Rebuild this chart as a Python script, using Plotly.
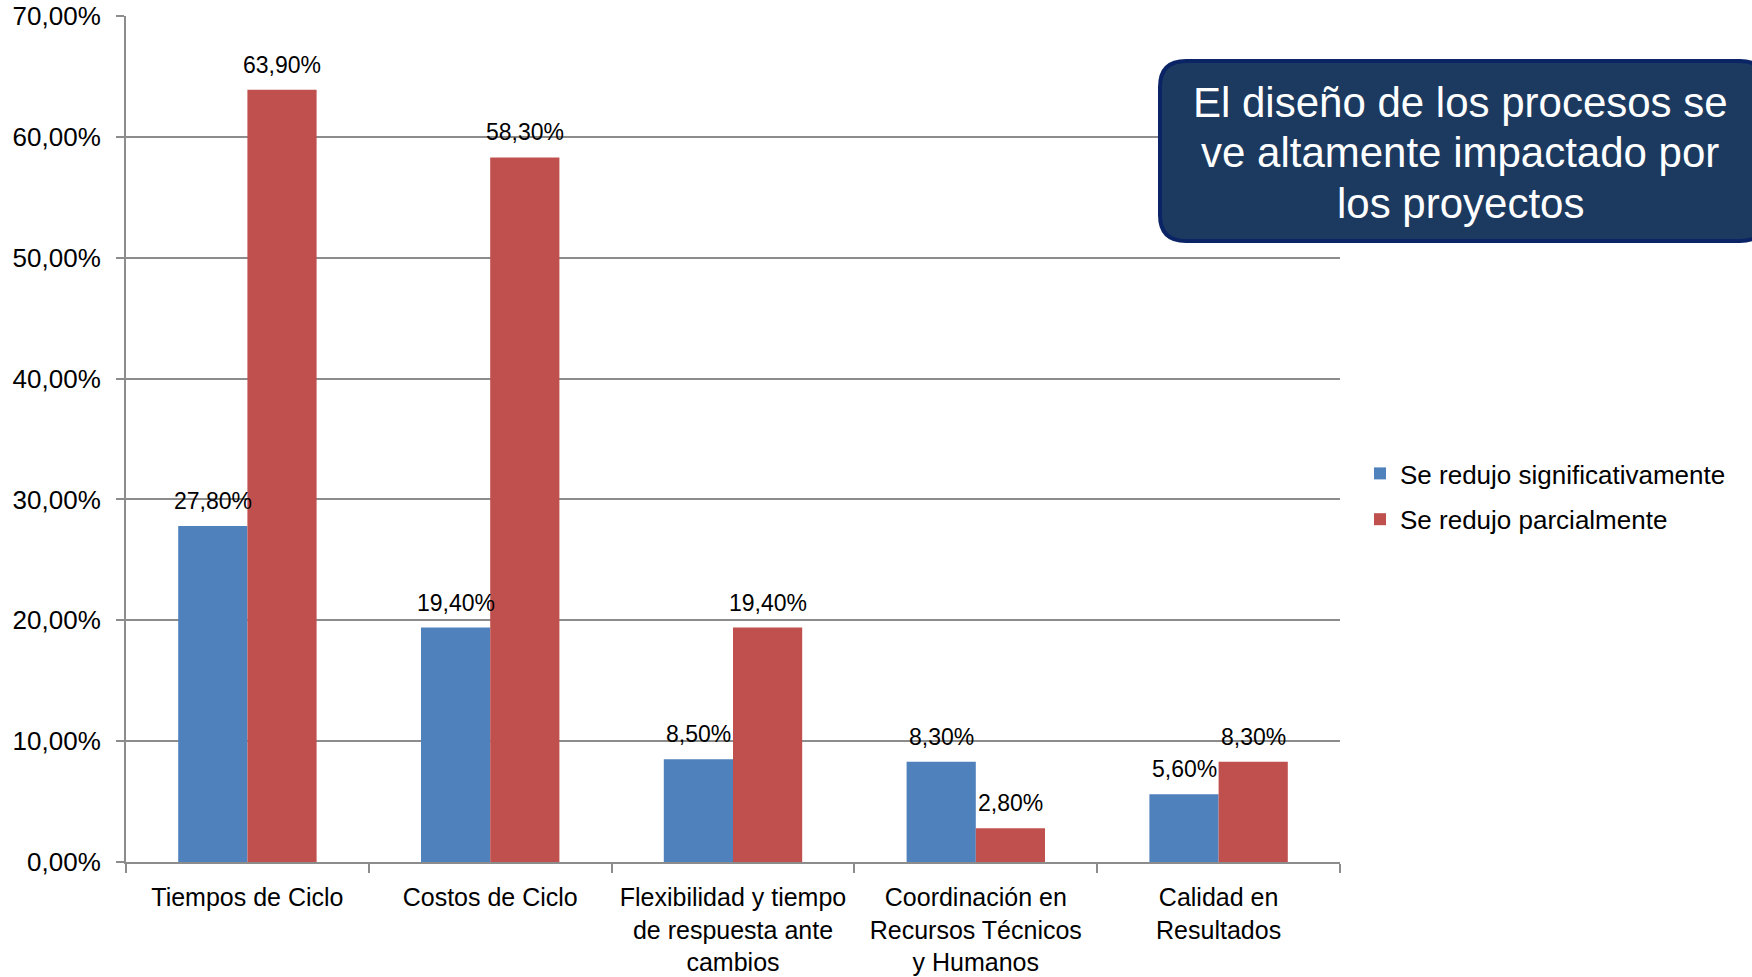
import plotly.graph_objects as go

categories = [
    "Tiempos de Ciclo",
    "Costos de Ciclo",
    "Flexibilidad y tiempo<br>de respuesta ante<br>cambios",
    "Coordinación en<br>Recursos Técnicos<br>y Humanos",
    "Calidad en<br>Resultados",
]
series_names = ["Se redujo significativamente", "Se redujo parcialmente"]
significativamente = [27.8, 19.4, 8.5, 8.3, 5.6]
parcialmente = [63.9, 58.3, 19.4, 2.8, 8.3]
y_ticks = [0, 10, 20, 30, 40, 50, 60, 70]
callout_lines = ["El diseño de los procesos se", "ve altamente impactado por", "los proyectos"]

colors = ["#4f81bd", "#c0504d"]
FONT = "Liberation Sans, Arial, sans-serif"

W, H = 1752, 977
L, R, T, B = 126, 412, 16, 115
plot_w = W - L - R
plot_h = H - T - B


def fmt(v):
    return f"{v:.2f}".replace(".", ",") + "%"


fig = go.Figure()
for i, (name, vals, col) in enumerate(zip(series_names, [significativamente, parcialmente], colors)):
    fig.add_trace(go.Bar(
        name=name, x=categories, y=vals,
        marker=dict(color=col, line=dict(width=0)),
        legendgroup=f"g{i}",
        hoverinfo="skip",
    ))

# value labels above each bar
bar_offsets = [-0.5, 0.5]
group_frac = 1 - 0.43
for si, vals in enumerate([significativamente, parcialmente]):
    for ci, v in enumerate(vals):
        xc = ci + bar_offsets[si] * group_frac / 2
        fig.add_annotation(
            x=xc, y=v, xref="x", yref="y",
            text=fmt(v), showarrow=False,
            yanchor="middle", yshift=25,
            font=dict(family=FONT, size=23, color="#000000"),
        )


def px_to_paper_x(px):
    return (px - L) / plot_w


def px_to_paper_y(py):
    return (H - B - py) / plot_h


# rounded callout box
x0, x1, y0, y1, r = 1160, 1766, 61, 241, 26
pts = [
    f"M{px_to_paper_x(x0 + r)},{px_to_paper_y(y0)}",
    f"L{px_to_paper_x(x1 - r)},{px_to_paper_y(y0)}",
    f"Q{px_to_paper_x(x1)},{px_to_paper_y(y0)} {px_to_paper_x(x1)},{px_to_paper_y(y0 + r)}",
    f"L{px_to_paper_x(x1)},{px_to_paper_y(y1 - r)}",
    f"Q{px_to_paper_x(x1)},{px_to_paper_y(y1)} {px_to_paper_x(x1 - r)},{px_to_paper_y(y1)}",
    f"L{px_to_paper_x(x0 + r)},{px_to_paper_y(y1)}",
    f"Q{px_to_paper_x(x0)},{px_to_paper_y(y1)} {px_to_paper_x(x0)},{px_to_paper_y(y1 - r)}",
    f"L{px_to_paper_x(x0)},{px_to_paper_y(y0 + r)}",
    f"Q{px_to_paper_x(x0)},{px_to_paper_y(y0)} {px_to_paper_x(x0 + r)},{px_to_paper_y(y0)}",
    "Z",
]
fig.add_shape(
    type="path", path=" ".join(pts), xref="paper", yref="paper",
    fillcolor="#1c3a5f", line=dict(color="#0b2466", width=4), layer="above",
)
# callout text, one line at a time for tighter line spacing
for k, line in enumerate(callout_lines):
    fig.add_annotation(
        x=px_to_paper_x(1460), y=px_to_paper_y(103 + 50 * k), xref="paper", yref="paper",
        text=line, showarrow=False, align="center",
        xanchor="center", yanchor="middle",
        font=dict(family=FONT, size=42, color="#ffffff"),
    )

fig.update_layout(
    width=W, height=H,
    margin=dict(l=L, r=R, t=T, b=B, autoexpand=False),
    paper_bgcolor="white", plot_bgcolor="white",
    barmode="group", bargap=0.43, bargroupgap=0,
    separators=",.",
    font=dict(family=FONT, size=26, color="#000000"),
    showlegend=True,
    legend=dict(
        x=px_to_paper_x(1360), y=px_to_paper_y(450), xanchor="left", yanchor="top",
        font=dict(family=FONT, size=26, color="#000000"),
        itemwidth=30, tracegroupgap=9, bgcolor="rgba(0,0,0,0)",
    ),
    xaxis=dict(
        automargin=False, tickangle=0,
        showline=True, linecolor="#8c8c8c", linewidth=2,
        ticks="outside", tickson="boundaries", ticklen=9, tickcolor="#8c8c8c", tickwidth=2,
        showgrid=False, tickfont=dict(family=FONT, size=25, color="#000000"),
        ticklabelstandoff=12,
    ),
    yaxis=dict(
        automargin=False,
        range=[0, 70], tickvals=y_ticks, ticktext=[fmt(v) for v in y_ticks],
        showline=True, linecolor="#8c8c8c", linewidth=2,
        ticks="outside", ticklen=8, tickcolor="#8c8c8c", tickwidth=2,
        showgrid=True, gridcolor="#8c8c8c", gridwidth=2,
        zeroline=False,
        tickfont=dict(family=FONT, size=26, color="#000000"),
        ticklabelstandoff=10,
    ),
)

fig.write_html("out.html")
